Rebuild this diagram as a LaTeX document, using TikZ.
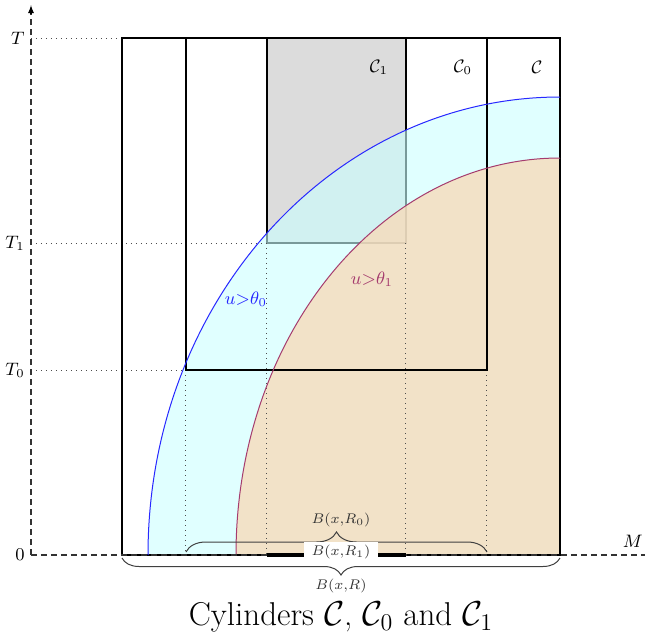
\documentclass[tikz,border=0pt]{standalone}
\usetikzlibrary{arrows.meta,decorations.pathreplacing}
\definecolor{cbox}{RGB}{220,220,220}
\definecolor{cyanf}{RGB}{203,255,255}
\definecolor{tanf}{RGB}{247,219,186}
\definecolor{bluec}{RGB}{40,40,255}
\definecolor{purc}{RGB}{165,60,110}
\definecolor{labg}{RGB}{50,50,50}
\begin{document}
\begin{tikzpicture}[x=0.5pt,y=-0.5pt,
  boxline/.style={black,line width=0.9pt},
  guide/.style={black!70,dotted,line width=0.5pt},
  axisline/.style={black!80,dash pattern=on 3pt off 2pt,line width=0.6pt},
  axlab/.style={font=\fontsize{9}{11}\selectfont,inner sep=1pt},
  blab/.style={font=\fontsize{7.5}{9}\selectfont,text=labg,inner sep=0.5pt},
  bracestyle/.style={black!75,line width=0.5pt,decorate}]
\useasboundingbox (0,0) rectangle (645,632);
% coordinates
\coordinate (O) at (31,555);
\coordinate (Ytop) at (31,5);
\coordinate (Xend) at (645,555);
\coordinate (yT) at (31,38);
\coordinate (yT1) at (31,243);
\coordinate (yT0) at (31,370);
% C1 box
\fill[cbox] (267,38) rectangle (406,243);
\draw[boxline] (267,38) rectangle (406,243);
% fills
\fill[cyanf,opacity=0.6] (148,555) arc[start angle=180,end angle=270,x radius=412,y radius=458] -- (560,555) -- cycle;
\fill[tanf,opacity=0.8] (236,555) arc[start angle=180,end angle=270,x radius=324,y radius=397] -- (560,555) -- cycle;
% guides
\draw[guide] (yT) -- (122,38);
\draw[guide] (yT1) -- (267,243);
\draw[guide] (yT0) -- (186,370);
\draw[guide] (186,370) -- (186,555);
\draw[guide] (267,243) -- (267,555);
\draw[guide] (406,243) -- (406,555);
\draw[guide] (487,370) -- (487,555);
% boxes C0 and C
\draw[boxline] (186,38) rectangle (487,370);
\draw[boxline] (122,38) rectangle (560,555);
% curves
\draw[bluec,line width=0.5pt] (148,555) arc[start angle=180,end angle=270,x radius=412,y radius=458];
\draw[purc,line width=0.5pt] (236,555) arc[start angle=180,end angle=270,x radius=324,y radius=397];
% axes
\draw[axisline] (O) -- (Xend);
\draw[axisline] (O) -- (Ytop);
\draw[-{Latex[length=4pt,width=3pt]},black,line width=0.6pt] (31,14) -- (Ytop);
% thick segment
\draw[black,line width=2pt] (267,555) -- (406,555);
% braces
\draw[bracestyle,decoration={brace,amplitude=10pt}] (186,552) -- (487,552);
\draw[bracestyle,decoration={brace,amplitude=8.5pt}] (560,558) -- (122,558);
\node[blab] (bR0) at (341,520) {$B(x{,}R_0)$};
\node[blab,fill=white,inner xsep=4pt,inner ysep=1.5pt] (bR1) at (341,552) {$B(x{,}R_1)$};
\node[blab] (bR) at (341,586) {$B(x{,}R)$};
% axis labels
\node[axlab,anchor=east] (lT) at (27,38) {$T$};
\node[axlab,anchor=east] (lT1) at (27,243) {$T_1$};
\node[axlab,anchor=east] (lT0) at (27,370) {$T_0$};
\node[axlab,anchor=east] (l0) at (27,555) {$0$};
\node[axlab,anchor=east] (lM) at (645,541) {$M$};
% cylinder labels
\node[axlab] (lC1) at (379,67) {$\mathcal{C}_1$};
\node[axlab] (lC0) at (463,67) {$\mathcal{C}_0$};
\node[axlab] (lC) at (537,67) {$\mathcal{C}$};
% level set labels
\node[axlab,text=bluec] (u0) at (246,299) {$u{>}\theta_0$};
\node[axlab,text=purc] (u1) at (372,279) {$u{>}\theta_1$};
% title
\node[font=\fontsize{16.5}{20}\selectfont,anchor=base,inner sep=0pt] (title) at (341,625) {Cylinders $\mathcal{C}$, $\mathcal{C}_0$ and $\mathcal{C}_1$};
\end{tikzpicture}
\end{document}
